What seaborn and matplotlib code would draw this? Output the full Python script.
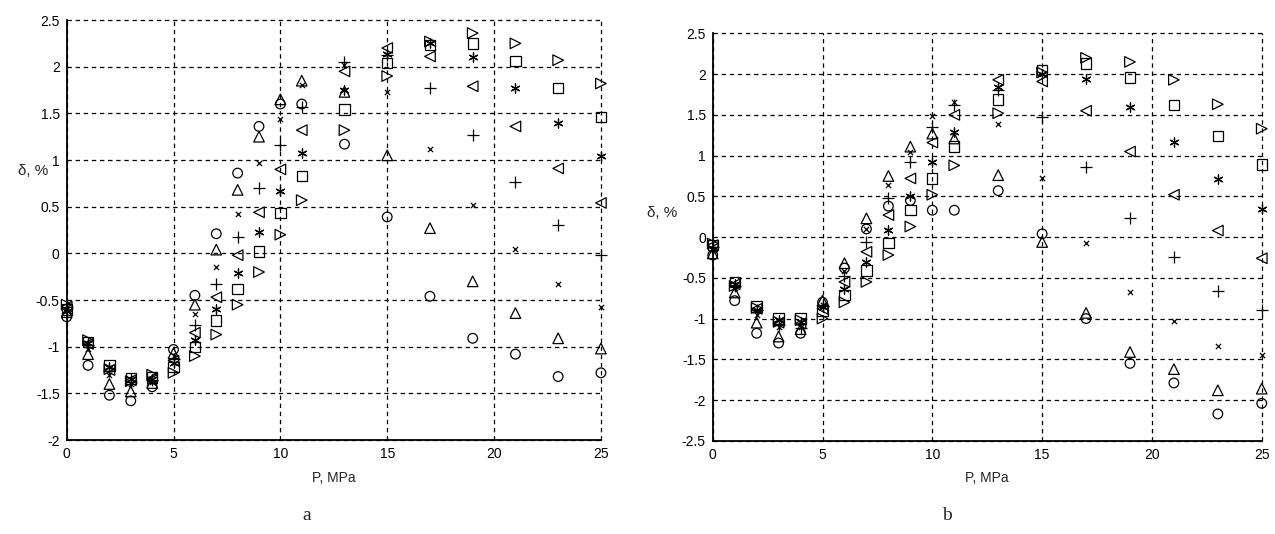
import matplotlib
matplotlib.use("Agg")
import matplotlib.pyplot as plt
import seaborn as sns
import numpy as np

# pressure points, MPa
pressure = [0, 1, 2, 3, 4, 5, 6, 7, 8, 9, 10, 11, 13, 15, 17, 19, 21, 23, 25]

# panel a: delta, %
a_circle = [-0.68, -1.2, -1.52, -1.58, -1.43, -1.03, -0.45, 0.21, 0.86, 1.36, 1.6, 1.6, 1.17, 0.39, -0.46, -0.91, -1.08, -1.32, -1.28]
a_tri_up = [-0.63, -1.08, -1.4, -1.48, -1.39, -1.07, -0.55, 0.04, 0.68, 1.25, 1.65, 1.85, 1.73, 1.05, 0.27, -0.3, -0.64, -0.91, -1.02]
a_cross = [-0.6, -1.02, -1.3, -1.4, -1.38, -1.1, -0.65, -0.15, 0.42, 0.97, 1.44, 1.8, 2.02, 1.73, 1.12, 0.52, 0.05, -0.33, -0.57]
a_plus = [-0.58, -0.98, -1.26, -1.38, -1.36, -1.13, -0.77, -0.33, 0.18, 0.70, 1.16, 1.57, 2.05, 2.12, 1.77, 1.27, 0.76, 0.30, -0.02]
a_tri_left = [-0.57, -0.97, -1.25, -1.36, -1.34, -1.15, -0.85, -0.47, -0.02, 0.44, 0.90, 1.32, 1.95, 2.2, 2.11, 1.79, 1.36, 0.91, 0.54]
a_star = [-0.62, -0.96, -1.22, -1.35, -1.35, -1.17, -0.93, -0.6, -0.21, 0.23, 0.67, 1.07, 1.75, 2.14, 2.25, 2.1, 1.77, 1.40, 1.04]
a_square = [-0.6, -0.95, -1.2, -1.34, -1.33, -1.22, -1.0, -0.72, -0.38, 0.02, 0.43, 0.83, 1.54, 2.04, 2.23, 2.25, 2.06, 1.77, 1.46]
a_tri_right = [-0.55, -0.93, -1.24, -1.37, -1.3, -1.28, -1.1, -0.87, -0.55, -0.2, 0.2, 0.57, 1.32, 1.9, 2.27, 2.36, 2.25, 2.07, 1.82]

# panel b: delta, %
b_circle = [-0.22, -0.78, -1.18, -1.3, -1.18, -0.8, -0.38, 0.1, 0.38, 0.45, 0.33, 0.33, 0.57, 0.04, -1.0, -1.55, -1.79, -2.17, -2.04]
b_tri_up = [-0.2, -0.68, -1.05, -1.22, -1.13, -0.78, -0.32, 0.23, 0.75, 1.11, 1.27, 1.21, 0.76, -0.06, -0.93, -1.41, -1.62, -1.88, -1.86]
b_cross = [-0.15, -0.62, -0.95, -1.1, -1.1, -0.83, -0.42, 0.1, 0.64, 1.05, 1.48, 1.66, 1.39, 0.73, -0.07, -0.67, -1.03, -1.34, -1.45]
b_plus = [-0.12, -0.6, -0.9, -1.08, -1.12, -0.85, -0.48, -0.06, 0.48, 0.92, 1.35, 1.62, 1.8, 1.47, 0.86, 0.24, -0.25, -0.66, -0.89]
b_tri_left = [-0.1, -0.58, -0.88, -1.05, -1.06, -0.88, -0.55, -0.18, 0.27, 0.72, 1.16, 1.5, 1.93, 1.91, 1.55, 1.05, 0.52, 0.08, -0.26]
b_star = [-0.15, -0.57, -0.9, -1.02, -1.04, -0.86, -0.64, -0.31, 0.09, 0.5, 0.92, 1.29, 1.84, 2.0, 1.94, 1.6, 1.17, 0.71, 0.34]
b_square = [-0.1, -0.55, -0.85, -1.0, -1.0, -0.9, -0.71, -0.41, -0.07, 0.33, 0.72, 1.11, 1.69, 2.05, 2.13, 1.96, 1.62, 1.24, 0.89]
b_tri_right = [-0.08, -0.6, -0.87, -1.04, -1.02, -1.0, -0.8, -0.55, -0.22, 0.13, 0.52, 0.88, 1.52, 2.02, 2.2, 2.15, 1.93, 1.63, 1.33]

sns.set_style("white")
plt.rcParams['font.family'] = ['Liberation Sans', 'DejaVu Sans']

# marker, size (pt^2), filled-type flag
markers = [('o', 48, True), ('^', 58, True), ('x', 14, False), ('+', 64, False),
           ('<', 58, True), ((6, 2, 0), 42, False), ('s', 55, True), ('>', 58, True)]


def draw_panel(ax, series, y_ticks):
    for values, (m, size, filled) in zip(series, markers):
        if filled:
            sns.scatterplot(x=pressure, y=values, marker=m, s=size, ax=ax,
                            facecolor='none', edgecolor='black', linewidth=0.9, clip_on=False, zorder=3)
        else:
            sns.scatterplot(x=pressure, y=values, marker=m, s=size, ax=ax,
                            color='black', linewidth=0.9, clip_on=False, zorder=3)
    ax.set_xlim(0, 25)
    ax.set_ylim(y_ticks[0], y_ticks[-1])
    ax.set_xticks(range(0, 26, 5))
    ax.set_yticks(y_ticks)
    ax.set_yticklabels([('%g' % t) for t in y_ticks])
    ax.grid(True, color='black', linestyle=(0, (3.5, 3)), linewidth=0.9)
    ax.set_axisbelow(True)
    for line in ax.get_xgridlines() + ax.get_ygridlines():
        line.set_clip_on(False)
    for side in ['top', 'right']:
        ax.spines[side].set_visible(False)
    for side in ['left', 'bottom']:
        ax.spines[side].set_color('black')
        ax.spines[side].set_linewidth(1.3)
    ax.tick_params(length=0, labelsize=10, colors='black', pad=5)
    ax.set_xlabel('P, MPa', fontsize=10, labelpad=7)


fig = plt.figure(figsize=(12.75, 5.34), dpi=100)
ax_a = fig.add_axes([0.0523, 0.176, 0.419, 0.7865])
ax_b = fig.add_axes([0.559, 0.1745, 0.4306, 0.763])

draw_panel(ax_a, [a_circle, a_tri_up, a_cross, a_plus, a_tri_left, a_star, a_square, a_tri_right],
           np.arange(-2, 2.51, 0.5))
draw_panel(ax_b, [b_circle, b_tri_up, b_cross, b_plus, b_tri_left, b_star, b_square, b_tri_right],
           np.arange(-2.5, 2.51, 0.5))

ax_a.set_ylabel('δ, %', rotation=0, fontsize=11)
ax_a.yaxis.set_label_coords(-0.063, 0.624)
ax_b.set_ylabel('δ, %', rotation=0, fontsize=11)
ax_b.yaxis.set_label_coords(-0.092, 0.542)

fig.text(307 / 1275, 1 - 515 / 534, 'a', fontsize=14, family='Liberation Serif', ha='center', va='center')
fig.text(947 / 1275, 1 - 515 / 534, 'b', fontsize=14, family='Liberation Serif', ha='center', va='center')

fig.savefig('out.png', dpi=100)
